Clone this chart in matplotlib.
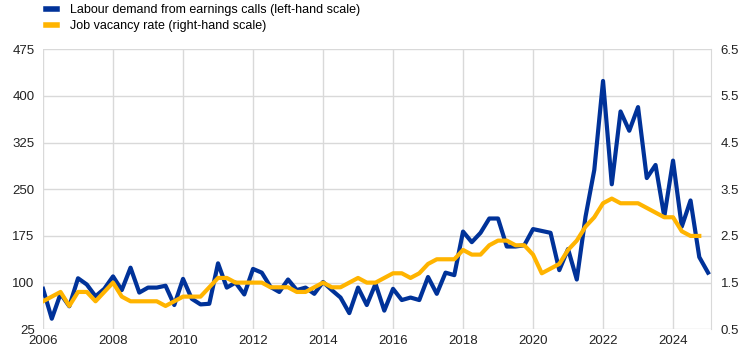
import numpy as np
import matplotlib
matplotlib.use("Agg")
import matplotlib.pyplot as plt

plt.rcParams['font.family'] = ['Liberation Sans', 'DejaVu Sans']

# quarterly observations, 2006Q1 onwards
labour_demand = [90, 42, 82, 62, 107, 97, 78, 90,
                 110, 88, 124, 84, 92, 92, 95, 64,
                 106, 74, 65, 66, 131, 92, 100, 81,
                 122, 116, 93, 85, 105, 88, 92, 82,
                 101, 88, 76, 51, 92, 64, 98, 55,
                 90, 72, 76, 72, 109, 82, 116, 112,
                 182, 165, 180, 203, 203, 158, 158, 160,
                 186, 183, 180, 120, 154, 105, 206, 281,
                 424, 258, 375, 344, 382, 268, 289, 206,
                 296, 190, 232, 141, 116]
vacancy_rate = [1.1, 1.2, 1.3, 1.0, 1.3, 1.3, 1.1, 1.3,
                1.5, 1.2, 1.1, 1.1, 1.1, 1.1, 1.0, 1.1,
                1.2, 1.2, 1.2, 1.4, 1.6, 1.6, 1.5, 1.5,
                1.5, 1.5, 1.4, 1.4, 1.4, 1.3, 1.3, 1.4,
                1.5, 1.4, 1.4, 1.5, 1.6, 1.5, 1.5, 1.6,
                1.7, 1.7, 1.6, 1.7, 1.9, 2.0, 2.0, 2.0,
                2.2, 2.1, 2.1, 2.3, 2.4, 2.4, 2.3, 2.3,
                2.1, 1.7, 1.8, 1.9, 2.2, 2.4, 2.7, 2.9,
                3.2, 3.3, 3.2, 3.2, 3.2, 3.1, 3.0, 2.9,
                2.9, 2.6, 2.5, 2.5]

left_ticks = [25, 100, 175, 250, 325, 400, 475]
right_ticks = [0.5, 1.5, 2.5, 3.5, 4.5, 5.5, 6.5]
year_ticks = list(range(2006, 2025, 2))

x_blue = 2006 + np.arange(len(labour_demand)) * 0.25
x_yellow = 2006 + np.arange(len(vacancy_rate)) * 0.25

blue = '#003299'
yellow = '#FFB400'
grid_col = '#d9d9d9'

fig = plt.figure(figsize=(7.42, 3.55), dpi=100)
ax = fig.add_axes([0.058, 0.0724, 0.9, 0.789])
ax2 = ax.twinx()

ax.plot(x_blue, labour_demand, color=blue, lw=3, solid_joinstyle='round')
ax2.plot(x_yellow, vacancy_rate, color=yellow, lw=3, solid_joinstyle='round')

ax.set_xlim(2006, 2025.08)
ax.set_ylim(25, 475)
ax2.set_ylim(0.5, 6.5)
ax.set_yticks(left_ticks)
ax2.set_yticks(right_ticks)
ax2.set_yticklabels([f'{t:.1f}' for t in right_ticks])
ax.set_xticks(year_ticks)

ax.grid(True, color=grid_col, lw=1)
ax.set_axisbelow(True)
for a in (ax, ax2):
    for s in a.spines.values():
        s.set_visible(False)
    a.tick_params(length=0, labelsize=9.5, colors='#222222')
ax2.spines['right'].set_visible(True)
ax2.spines['right'].set_color(grid_col)
ax.tick_params(axis='y', pad=6)
ax2.tick_params(axis='y', pad=7)
ax.tick_params(axis='x', pad=4)

h1, = ax.plot([], [], color=blue, lw=4)
h2, = ax.plot([], [], color=yellow, lw=4)
fig.legend([h1, h2],
           ['Labour demand from earnings calls (left-hand scale)',
            'Job vacancy rate (right-hand scale)'],
           loc='upper left', bbox_to_anchor=(0.047, 1.02), frameon=False,
           fontsize=9, handlelength=0.9, handletextpad=1.0, labelspacing=0.3)

fig.savefig('out.png', dpi=100)
